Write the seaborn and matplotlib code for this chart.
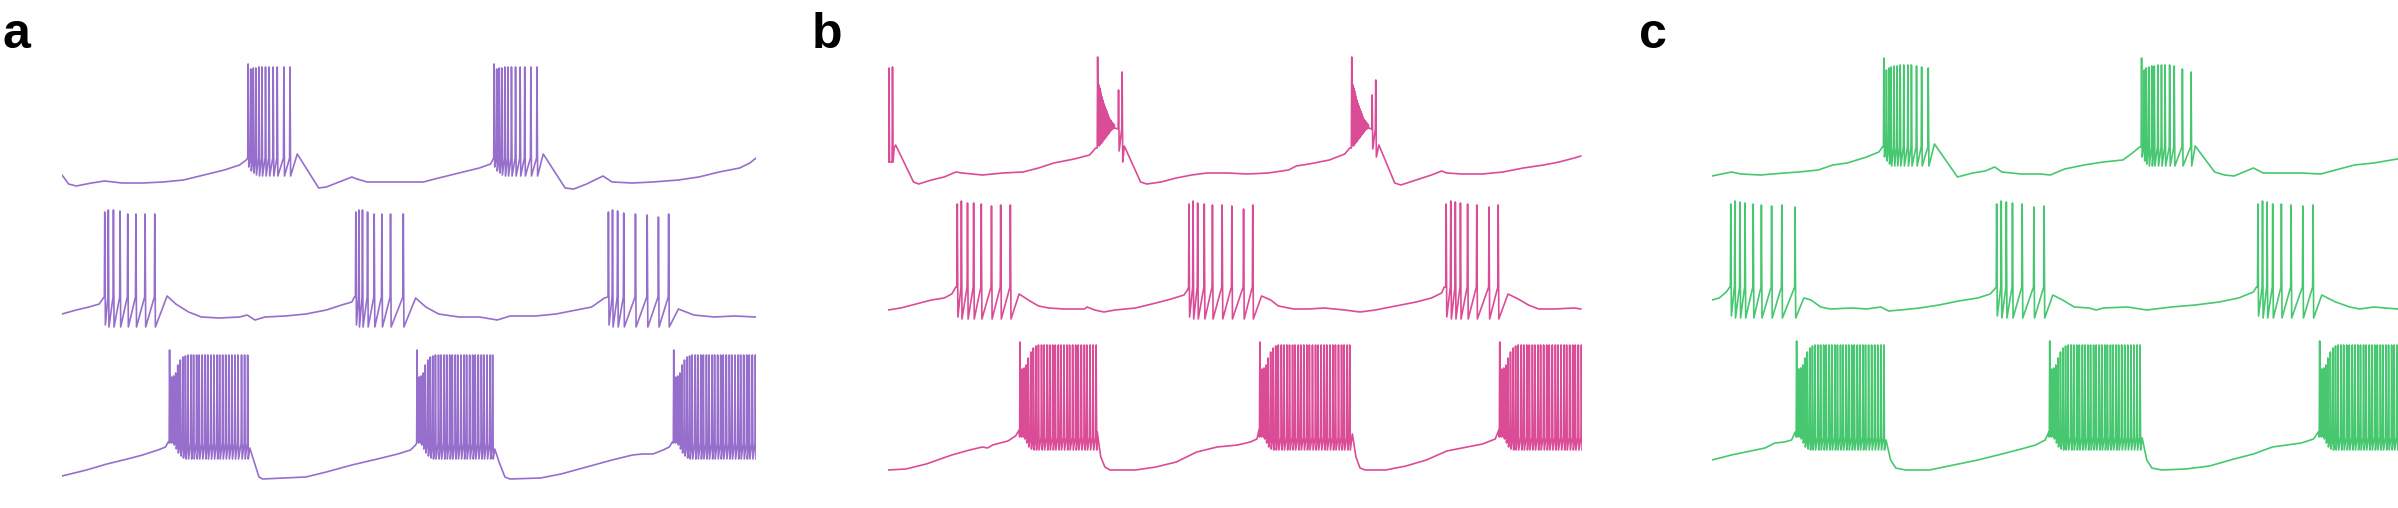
import numpy as np
import pandas as pd
import seaborn as sns
import matplotlib
matplotlib.use('Agg')
import matplotlib.pyplot as plt

# ---- panel a (purple) ----
# top trace: slow membrane potential (s, mV) between bursts
a1_t = [0, 0.13, 0.28, 0.58, 0.83, 1.18, 1.58, 1.98, 2.38, 2.78, 3.18, 3.48, 3.61,
        4.61, 5.03, 5.18, 5.38, 5.68, 5.78, 5.98, 6.58, 7.08, 7.38, 7.78, 8.18, 8.40, 8.44,
        9.43, 9.86, 10.03, 10.28, 10.60, 10.78, 11.18, 11.58, 12.08, 12.48, 12.88, 13.28, 13.48, 13.6]
a1_v = [-62, -71, -73, -70, -68, -70, -70, -69, -67, -62, -57, -52, -47,
        -41, -75, -74, -70, -64, -66, -69, -69, -69, -65, -60, -55, -51, -47,
        -41, -75, -76, -71, -63, -69, -70, -69, -67, -64, -59, -55, -50, -45]
a1_b1 = [3.64, 3.69, 3.74, 3.79, 3.85, 3.91, 3.98, 4.05, 4.13, 4.21, 4.34, 4.46]
a1_b2 = [8.46, 8.51, 8.56, 8.61, 8.67, 8.73, 8.80, 8.88, 8.97, 9.06, 9.18, 9.30]
a1_peak = [49, 44, 45, 45, 46]
a1_trough = [-54, -58, -60, -62, -63]
a1_thr = -45

a2_t = [0, 0.28, 0.53, 0.73, 0.81,
        2.06, 2.23, 2.48, 2.73, 3.08, 3.48, 3.63, 3.78, 3.98, 4.38, 4.78, 5.18, 5.48, 5.68, 5.73,
        6.93, 7.13, 7.38, 7.78, 8.18, 8.53, 8.78, 9.28, 9.68, 10.08, 10.38, 10.63,
        12.08, 12.38, 12.78, 13.18, 13.6]
a2_v = [-67, -63, -60, -57, -51,
        -49, -57, -65, -70, -71, -70, -68, -73, -70, -69, -67, -63, -58, -55, -50,
        -51, -60, -67, -70, -70, -73, -69, -69, -67, -63, -60, -51,
        -62, -68, -70, -69, -70]
a2_b1 = [0.83, 0.90, 1.00, 1.13, 1.28, 1.44, 1.62, 1.81]
a2_b1_peak = [35, 37, 37, 36, 33, 33, 33, 33]
a2_b2 = [5.75, 5.81, 5.88, 5.98, 6.11, 6.26, 6.43, 6.68]
a2_b2_peak = [35, 37, 37, 35, 33, 33, 33, 33]
a2_b3 = [10.70, 10.78, 10.88, 11.00, 11.23, 11.46, 11.68, 11.88]
a2_b3_peak = [35, 37, 36, 34, 33, 32, 30, 33]
a2_trough = [-78, -80]
a2_thr = -50

a3_t = [0, 0.48, 0.88, 1.28, 1.58, 1.88, 2.03, 2.08,
        3.68, 3.78, 3.86, 3.93, 4.38, 4.78, 5.18, 5.68, 6.18, 6.58, 6.83, 6.93,
        8.48, 8.58, 8.68, 8.78, 9.38, 9.78, 10.28, 10.78, 11.18, 11.38, 11.58, 11.78, 11.90, 11.96]
a3_v = [-73, -67, -61, -56, -52, -47, -44, -39,
        -45, -61, -74, -76, -75, -74, -69, -62, -56, -51, -47, -42,
        -46, -61, -74, -76, -75, -71, -64, -57, -52, -51, -51, -47, -44, -39]
a3_b1 = [2.10, 2.14, 2.18, 2.22, 2.26, 2.31, 2.36, 2.41, 2.46, 2.52, 2.57, 2.63, 2.68, 2.74,
         2.80, 2.85, 2.91, 2.97, 3.03, 3.08, 3.14, 3.20, 3.26, 3.32, 3.38, 3.44, 3.51, 3.57, 3.63]
a3_b2 = [6.95, 6.99, 7.03, 7.07, 7.11, 7.16, 7.21, 7.26, 7.31, 7.37, 7.42, 7.48, 7.53, 7.59,
         7.64, 7.70, 7.75, 7.81, 7.87, 7.92, 7.98, 8.04, 8.09, 8.15, 8.21, 8.26, 8.32, 8.38, 8.43]
a3_b3 = [11.98, 12.02, 12.06, 12.10, 12.14, 12.19, 12.24, 12.29, 12.34, 12.40, 12.45, 12.51,
         12.56, 12.62, 12.67, 12.73, 12.78, 12.84, 12.90, 12.95, 13.01, 13.07, 13.12, 13.18,
         13.24, 13.29, 13.35, 13.41, 13.46, 13.52, 13.58]
a3_peak = [53, 26, 27, 30, 38, 43, 46, 47, 48]
a3_trough = [-34, -38, -42, -46, -50, -53, -55, -56]
a3_thr = -40

# ---- panel b (magenta) ----
b1_t = [0, 0.12, 0.15, 0.50, 0.60, 0.85, 1.10, 1.33, 1.45, 1.85, 2.25, 2.65, 2.95, 3.25, 3.65, 3.95, 4.07,
        4.63, 4.95, 5.07, 5.35, 5.65, 5.95, 6.25, 6.65, 7.05, 7.45, 7.85, 8.00, 8.25, 8.65, 8.95, 9.05,
        9.62, 9.93, 10.05, 10.35, 10.65, 10.85, 10.95, 11.25, 11.65, 12.05, 12.45, 12.85, 13.15, 13.45, 13.58]
b1_v = [-49, -35, -32, -69, -71, -67, -64, -59, -60, -62, -60, -59, -55, -50, -46, -42, -35,
        -33, -69, -71, -69, -65, -62, -60, -60, -61, -60, -57, -53, -51, -47, -41, -35,
        -32, -70, -72, -67, -62, -58, -60, -61, -61, -59, -55, -52, -49, -45, -43]
b1_open = [0.01, 0.08]
b1_open_peak = [45, 46]
b1_first = [4.10, 9.08]
b1_osc1 = [4.13, 4.145, 4.16, 4.175, 4.19, 4.205, 4.22, 4.235, 4.25, 4.265, 4.28, 4.295,
           4.31, 4.325, 4.34, 4.355, 4.37, 4.385, 4.40, 4.415, 4.43]
b1_osc2 = [9.11, 9.125, 9.14, 9.155, 9.17, 9.185, 9.20, 9.215, 9.23, 9.245, 9.26, 9.275,
           9.29, 9.305, 9.32, 9.335, 9.35, 9.365, 9.38, 9.395, 9.41]
b1_osc_peak = [28, 25, 22, 19, 16, 13, 10, 8, 6, 4, 2, 0, -2, -4, -6, -7, -8, -9, -10, -11, -12]
b1_osc_trough = [-33, -32, -31, -30, -29, -28, -27, -26, -25, -24, -23, -22, -21, -20,
                 -19, -18, -17, -16, -16, -15, -15]
b1_late1 = [4.51, 4.58]
b1_late1_peak = [23, 41]
b1_late1_trough = [-38, -49]
b1_late2 = [9.48, 9.55]
b1_late2_peak = [18, 33]
b1_late2_trough = [-36, -44]

b2_t = [0, 0.25, 0.55, 0.85, 1.10, 1.25, 1.33,
        2.57, 2.75, 2.95, 3.15, 3.45, 3.85, 3.90, 4.05, 4.23, 4.45, 4.85, 5.25, 5.55, 5.80, 5.87,
        7.32, 7.50, 7.65, 7.95, 8.25, 8.55, 8.95, 9.25, 9.55, 9.95, 10.35, 10.65, 10.85, 10.90,
        12.15, 12.35, 12.55, 12.75, 13.05, 13.45, 13.58]
b2_v = [-63, -61, -57, -53, -51, -47, -40,
        -47, -53, -59, -61, -62, -62, -60, -63, -65, -63, -61, -56, -52, -48, -43,
        -49, -53, -59, -62, -62, -61, -63, -65, -63, -59, -55, -51, -46, -40,
        -47, -52, -58, -62, -62, -61, -62]
b2_b1 = [1.35, 1.43, 1.55, 1.67, 1.82, 2.02, 2.20, 2.39]
b2_b1_peak = [43, 46, 44, 44, 43, 41, 42, 42]
b2_b2 = [5.89, 5.97, 6.06, 6.19, 6.35, 6.54, 6.73, 6.96, 7.14]
b2_b2_peak = [43, 46, 44, 43, 42, 42, 41, 38, 42]
b2_b3 = [10.93, 11.02, 11.11, 11.21, 11.35, 11.53, 11.77, 11.95]
b2_b3_peak = [43, 46, 45, 44, 43, 42, 40, 42]
b2_trough = [-70, -72]
b2_thr = -40

b3_t = [0, 0.35, 0.75, 1.25, 1.60, 1.85, 1.95, 2.05, 2.35, 2.50, 2.57,
        4.10, 4.17, 4.25, 4.35, 4.85, 5.25, 5.65, 6.05, 6.45, 6.85, 7.10, 7.23, 7.27,
        9.10, 9.17, 9.25, 9.35, 9.75, 10.15, 10.55, 10.95, 11.35, 11.65, 11.90, 11.97]
b3_v = [-67, -66, -61, -52, -47, -44, -45, -42, -38, -33, -27,
        -29, -54, -64, -67, -67, -64, -59, -49, -44, -42, -39, -36, -27,
        -31, -54, -65, -67, -67, -63, -57, -48, -44, -41, -36, -27]
b3_b1 = [2.58, 2.62, 2.66, 2.70, 2.74, 2.79, 2.84, 2.89, 2.94, 3.00, 3.05, 3.11, 3.16, 3.22,
         3.27, 3.33, 3.38, 3.44, 3.50, 3.55, 3.61, 3.67, 3.72, 3.78, 3.84, 3.89, 3.95, 4.01, 4.07]
b3_b2 = [7.28, 7.32, 7.36, 7.40, 7.44, 7.49, 7.54, 7.59, 7.64, 7.70, 7.75, 7.81, 7.86, 7.92,
         7.97, 8.03, 8.08, 8.14, 8.20, 8.25, 8.31, 8.37, 8.42, 8.48, 8.54, 8.59, 8.65, 8.71,
         8.76, 8.82, 8.88, 8.93, 8.99, 9.04]
b3_b3 = [11.98, 12.02, 12.06, 12.10, 12.14, 12.19, 12.24, 12.29, 12.34, 12.40, 12.45, 12.51,
         12.56, 12.62, 12.67, 12.73, 12.78, 12.84, 12.90, 12.95, 13.01, 13.07, 13.12, 13.18,
         13.24, 13.29, 13.35, 13.41, 13.46, 13.52, 13.58]
b3_peak = [61, 34, 35, 38, 45, 51, 55, 57, 58]
b3_trough = [-27, -31, -36, -40, -44, -46, -47]
b3_thr = -34

# ---- panel c (green) ----
c1_t = [0, 0.38, 0.57, 0.95, 1.42, 1.70, 2.08, 2.37, 2.65, 3.03, 3.27, 3.34,
        4.36, 4.81, 5.11, 5.35, 5.54, 5.68, 6.06, 6.44, 6.63, 6.91, 7.29, 7.67, 8.05, 8.24, 8.38,
        9.47, 9.85, 10.04, 10.23, 10.42, 10.61, 10.80, 11.17, 11.55, 11.93, 12.22, 12.59, 12.97, 13.43, 13.6]
c1_v = [-63, -59, -61, -62, -60, -59, -57, -52, -50, -44, -39, -34,
        -31, -64, -60, -58, -54, -59, -61, -61, -62, -56, -52, -49, -47, -40, -34,
        -33, -59, -62, -63, -59, -55, -60, -60, -60, -61, -57, -52, -50, -46, -45]
c1_b1 = [3.36, 3.41, 3.46, 3.50, 3.56, 3.62, 3.68, 3.75, 3.83, 3.90, 4.00, 4.10, 4.23]
c1_b1_peak = [55, 43, 45, 46, 47, 47, 48, 48, 48, 48, 47, 46, 45]
c1_b2 = [8.41, 8.46, 8.50, 8.55, 8.61, 8.66, 8.73, 8.80, 8.87, 8.96, 9.05, 9.21, 9.38]
c1_b2_peak = [55, 43, 45, 46, 47, 47, 48, 48, 48, 48, 47, 44, 41]
c1_trough = [-44, -48, -51, -53]
c1_thr = -34

c2_t = [0, 0.14, 0.28, 0.35,
        1.80, 1.94, 2.13, 2.32, 2.75, 3.03, 3.31, 3.46, 3.69, 4.07, 4.45, 4.83, 5.21, 5.45, 5.54,
        6.68, 6.87, 7.10, 7.39, 7.53, 7.67, 8.14, 8.52, 9.00, 9.47, 9.94, 10.32, 10.61, 10.67,
        11.95, 12.22, 12.50, 12.69, 12.97, 13.43, 13.6]
c2_v = [-53, -51, -45, -40,
        -51, -53, -60, -62, -61, -62, -60, -64, -63, -61, -58, -54, -51, -47, -42,
        -48, -53, -60, -61, -63, -61, -60, -63, -60, -58, -55, -51, -45, -40,
        -48, -55, -60, -62, -60, -62, -61]
c2_b1 = [0.36, 0.44, 0.54, 0.64, 0.80, 0.96, 1.16, 1.36, 1.62]
c2_b1_peak = [43, 46, 45, 44, 43, 42, 41, 42, 40]
c2_b2 = [5.57, 5.66, 5.76, 5.88, 6.07, 6.30, 6.50]
c2_b2_peak = [43, 46, 45, 44, 43, 40, 41]
c2_b3 = [10.69, 10.78, 10.87, 10.98, 11.15, 11.34, 11.57, 11.77]
c2_b3_peak = [43, 46, 45, 43, 43, 42, 41, 42]
c2_trough = [-69, -71]
c2_thr = -40

c3_t = [0, 0.38, 0.76, 1.04, 1.23, 1.42, 1.56, 1.63,
        3.41, 3.50, 3.60, 3.79, 4.26, 4.73, 5.21, 5.68, 6.06, 6.34, 6.53, 6.60,
        8.43, 8.52, 8.62, 8.81, 9.28, 9.75, 10.23, 10.61, 10.98, 11.27, 11.55, 11.79, 11.88]
c3_v = [-57, -52, -48, -45, -40, -39, -37, -29,
        -37, -57, -65, -67, -67, -62, -57, -51, -46, -42, -37, -29,
        -35, -57, -65, -67, -66, -63, -56, -51, -44, -42, -40, -36, -29]
c3_b1 = [1.65, 1.69, 1.73, 1.77, 1.81, 1.86, 1.91, 1.96, 2.01, 2.07, 2.12, 2.18, 2.23, 2.29,
         2.34, 2.40, 2.45, 2.51, 2.56, 2.62, 2.67, 2.73, 2.78, 2.84, 2.89, 2.95, 3.00, 3.06,
         3.12, 3.18, 3.24, 3.30, 3.36]
c3_b2 = [6.61, 6.65, 6.69, 6.73, 6.77, 6.82, 6.87, 6.92, 6.97, 7.03, 7.08, 7.14, 7.19, 7.25,
         7.30, 7.36, 7.41, 7.47, 7.52, 7.58, 7.63, 7.69, 7.74, 7.80, 7.85, 7.91, 7.96, 8.02,
         8.08, 8.14, 8.20, 8.26, 8.32, 8.38]
c3_b3 = [11.90, 11.94, 11.98, 12.02, 12.06, 12.11, 12.16, 12.21, 12.26, 12.32, 12.37, 12.43,
         12.48, 12.54, 12.59, 12.65, 12.70, 12.76, 12.81, 12.87, 12.92, 12.98, 13.03, 13.09,
         13.14, 13.20, 13.25, 13.31, 13.36, 13.42, 13.47, 13.53, 13.58]
c3_peak = [62, 34, 35, 38, 45, 51, 55, 57, 58]
c3_trough = [-27, -31, -36, -40, -44, -46, -47]
c3_thr = -34

panel_labels = ['a', 'b', 'c']
colors = ['#8b5ec6', '#d8388b', '#33c160']


def trace(slow_t, slow_v, bursts):
    # slow waypoints plus one (threshold, peak, trough) vertex set per spike
    pts = list(zip(slow_t, slow_v))
    for times, peaks, troughs, thr, w in bursts:
        for i, ts in enumerate(times):
            pk = peaks[min(i, len(peaks) - 1)]
            tr = troughs[min(i, len(troughs) - 1)]
            if thr is not None:
                pts.append((ts, thr))
            pts.append((ts + 0.4 * w, pk))
            pts.append((ts + w, tr))
    pts.sort(key=lambda p: p[0])
    return pd.DataFrame(pts, columns=['t', 'v'])


W = 0.02
traces = [
    [trace(a1_t, a1_v, [(a1_b1, a1_peak, a1_trough, a1_thr, W), (a1_b2, a1_peak, a1_trough, a1_thr, W)]),
     trace(a2_t, a2_v, [(a2_b1, a2_b1_peak, a2_trough, a2_thr, W), (a2_b2, a2_b2_peak, a2_trough, a2_thr, W),
                        (a2_b3, a2_b3_peak, a2_trough, a2_thr, W)]),
     trace(a3_t, a3_v, [(a3_b1, a3_peak, a3_trough, a3_thr, W), (a3_b2, a3_peak, a3_trough, a3_thr, W),
                        (a3_b3, a3_peak, a3_trough, a3_thr, W)])],
    [trace(b1_t, b1_v, [(b1_open, b1_open_peak, [-49], -49, W),
                        (b1_first, [56], [-30], -35, W),
                        (b1_osc1, b1_osc_peak, b1_osc_trough, None, 0.008),
                        (b1_osc2, b1_osc_peak, b1_osc_trough, None, 0.008),
                        (b1_late1, b1_late1_peak, b1_late1_trough, -16, W),
                        (b1_late2, b1_late2_peak, b1_late2_trough, -16, W)]),
     trace(b2_t, b2_v, [(b2_b1, b2_b1_peak, b2_trough, b2_thr, W), (b2_b2, b2_b2_peak, b2_trough, b2_thr, W),
                        (b2_b3, b2_b3_peak, b2_trough, b2_thr, W)]),
     trace(b3_t, b3_v, [(b3_b1, b3_peak, b3_trough, b3_thr, W), (b3_b2, b3_peak, b3_trough, b3_thr, W),
                        (b3_b3, b3_peak, b3_trough, b3_thr, W)])],
    [trace(c1_t, c1_v, [(c1_b1, c1_b1_peak, c1_trough, c1_thr, W), (c1_b2, c1_b2_peak, c1_trough, c1_thr, W)]),
     trace(c2_t, c2_v, [(c2_b1, c2_b1_peak, c2_trough, c2_thr, W), (c2_b2, c2_b2_peak, c2_trough, c2_thr, W),
                        (c2_b3, c2_b3_peak, c2_trough, c2_thr, W)]),
     trace(c3_t, c3_v, [(c3_b1, c3_peak, c3_trough, c3_thr, W), (c3_b2, c3_peak, c3_trough, c3_thr, W),
                        (c3_b3, c3_peak, c3_trough, c3_thr, W)])],
]

sns.set_style('white')
FW, FH = 2398, 508
fig = plt.figure(figsize=(FW / 100, FH / 100), dpi=100)

panel_left = [62, 888, 1712]   # px
label_x = [3, 812, 1639]
row_top = [43, 177, 333]       # px where +70 mV sits
row_h = 160
panel_w = 694

for p in range(3):
    for r in range(3):
        ax = fig.add_axes([panel_left[p] / FW, 1 - (row_top[r] + row_h) / FH,
                           panel_w / FW, row_h / FH])
        sns.lineplot(data=traces[p][r], x='t', y='v', ax=ax, color=colors[p],
                     linewidth=1.2, alpha=0.9, sort=False, estimator=None)
        ax.set_xlim(0, 13.6)
        ax.set_ylim(-90, 70)
        ax.axis('off')
    fig.text(label_x[p] / FW, 1 - 48 / FH, panel_labels[p], fontsize=36, fontweight='bold',
             family='Liberation Sans', color='black', ha='left', va='baseline')

fig.savefig('out.png', dpi=100)
